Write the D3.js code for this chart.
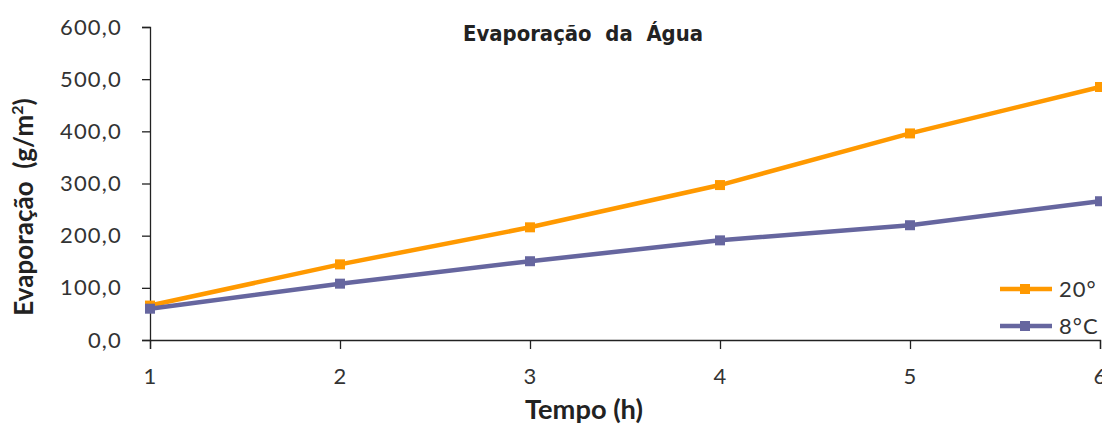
<!DOCTYPE html>
<html>
<head>
<meta charset="utf-8">
<script src="https://cdn.jsdelivr.net/npm/d3@7"></script>
<style>
  body { margin: 0; background: #fff; }
  svg { display: block; }
  text.pre { white-space: pre; }
</style>
</head>
<body>
<svg id="chart" width="1102" height="427"></svg>
<script>
// data
const hours = [1, 2, 3, 4, 5, 6];
const evap20 = [66, 145, 216, 297, 396, 485];
const evap8 = [60, 108, 151, 191, 220, 266];
const yTicks = [0, 100, 200, 300, 400, 500, 600];
const seriesNames = ['20°', '8°C'];
const seriesColors = ['#FF9900', '#66669F'];

const svg = d3.select('#chart');
const mLeft = 150, mRight = 1100, mTop = 27, mBottom = 340;
const font = 'Lato, "Open Sans", sans-serif';

const x = d3.scaleLinear().domain([1, 6]).range([mLeft, mRight]);
const y = d3.scaleLinear().domain([0, 600]).range([mBottom, mTop]);
const fmt = v => d3.format('.1f')(v).replace('.', ',');

// axes
const yAxis = svg.append('g').attr('transform', `translate(${mLeft},0)`)
  .call(d3.axisLeft(y).tickValues(yTicks).tickFormat(fmt).tickSizeOuter(0).tickSize(8).tickPadding(20));
const xAxis = svg.append('g').attr('transform', `translate(0,${mBottom})`)
  .call(d3.axisBottom(x).tickValues(hours).tickFormat(d3.format('d')).tickSizeOuter(0).tickSize(9).tickPadding(19));
[yAxis, xAxis].forEach(g => {
  g.selectAll('path, line').attr('stroke', '#222').attr('stroke-width', 1.3);
  g.selectAll('text').attr('font-family', font)
    .attr('font-size', 22).attr('letter-spacing', 1.2).attr('fill', '#333');
});

// series
const series = [evap20, evap8];
const line = d3.line().x((d, i) => x(hours[i])).y(d => y(d));
series.forEach((vals, s) => {
  svg.append('path').datum(vals).attr('d', line)
    .attr('fill', 'none').attr('stroke', seriesColors[s]).attr('stroke-width', 4.5);
  svg.selectAll(null).data(vals).enter().append('rect')
    .attr('x', (d, i) => x(hours[i]) - 5).attr('y', d => y(d) - 5)
    .attr('width', 10).attr('height', 10).attr('fill', seriesColors[s]);
});

// title
svg.append('text').attr('class', 'pre').attr('x', 463).attr('y', 41)
  .attr('textLength', 240).attr('lengthAdjust', 'spacingAndGlyphs')
  .attr('font-family', '"DejaVu Sans", sans-serif').attr('font-weight', 'bold')
  .attr('font-size', 22).attr('fill', '#222').text('Evaporação  da  Água');

// axis titles
svg.append('text').attr('x', 525).attr('y', 419)
  .attr('textLength', 118).attr('lengthAdjust', 'spacingAndGlyphs')
  .attr('font-family', font).attr('font-weight', 'bold')
  .attr('font-size', 26).attr('fill', '#222').text('Tempo (h)');
const yt = svg.append('text').attr('class', 'pre').attr('transform', 'translate(33,207) rotate(-90)')
  .attr('text-anchor', 'middle')
  .attr('font-family', font).attr('font-weight', 'bold')
  .attr('font-size', 26).attr('fill', '#222');
yt.append('tspan').text('Evaporação  (g/m');
yt.append('tspan').attr('font-size', 16).attr('dy', -10).text('2');
yt.append('tspan').attr('dy', 10).text(')');

// legend
const legY = [289, 326];
seriesNames.forEach((name, s) => {
  const g = svg.append('g').attr('transform', `translate(1000,${legY[s]})`);
  g.append('line').attr('x1', 0).attr('x2', 52).attr('stroke', seriesColors[s]).attr('stroke-width', 4.5);
  g.append('rect').attr('x', 20).attr('y', -5).attr('width', 10).attr('height', 10).attr('fill', seriesColors[s]);
  g.append('text').attr('x', 59).attr('y', 8)
    .attr('font-family', font).attr('font-size', 22).attr('letter-spacing', 1)
    .attr('fill', '#333').text(name);
});
</script>
</body>
</html>
